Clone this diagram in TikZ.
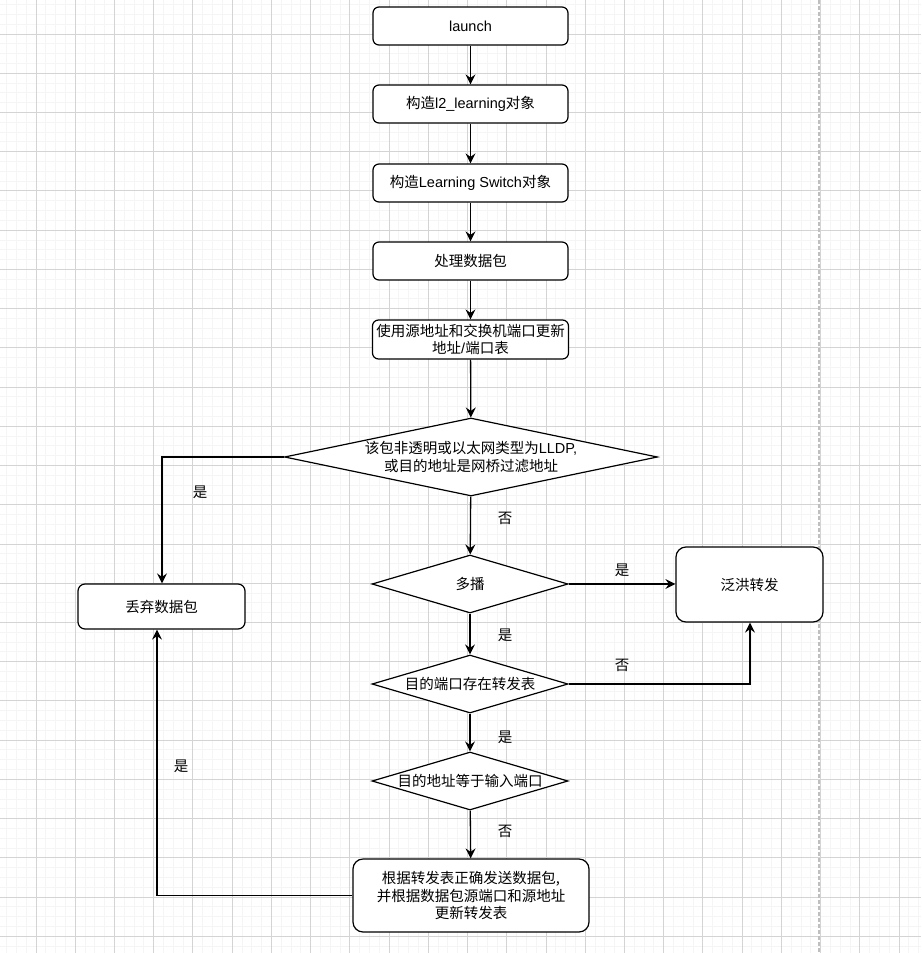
\documentclass[tikz,border=0pt]{standalone}
\usepackage{fontspec}
\setmainfont{Noto Sans CJK SC}
\newfontfamily\lat{Liberation Sans}
\usetikzlibrary{arrows.meta,shapes.geometric}
\tikzset{
  minorgrid/.style={draw=black!4, line width=0.9pt},
  majorgrid/.style={draw=black!17, line width=0.9pt},
  pagebreak/.style={draw=black!25, line width=1.5pt, dash pattern=on 4pt off 2pt},
  box/.style={draw, rounded corners=6pt, line width=1.2pt, minimum width=195pt, minimum height=38pt, inner sep=0pt, align=center, fill=white},
  dia/.style={draw, diamond, line width=1.2pt, inner sep=0pt, fill=white, minimum width=196pt, minimum height=58pt},
  conn/.style={line width=1.3pt, -{Stealth[length=10pt,width=10pt,inset=3.5pt]}},
  lbl/.style={inner sep=0pt}
}
\begin{document}
\begin{tikzpicture}[x=1pt,y=-1pt,font=\fontsize{14.5}{17.5}\selectfont]
\useasboundingbox (0,0) rectangle (921,953);
\fill[white] (0,0) rectangle (921,953);
% grid
\foreach \i in {0,...,93} { \draw[minorgrid] ({6.57+9.8075*\i},0) -- ++(0,953); }
\foreach \i in {0,...,96} { \draw[minorgrid] (0,{4.57+9.8075*\i}) -- ++(921,0); }
\foreach \i in {0,...,22} { \draw[majorgrid] ({36+39.23*\i},0) -- ++(0,953); }
\foreach \i in {0,...,23} { \draw[majorgrid] (0,{34+39.23*\i}) -- ++(921,0); }
\draw[pagebreak] (819,0) -- (819,953);

% nodes
\node[box] (launch) at (470.5,26) {\lat launch};
\node[box] (l2) at (470.5,104) {构造{\lat l2\_learning}对象};
\node[box] (ls) at (470.5,183) {构造{\lat Learning Switch}对象};
\node[box] (proc) at (470.5,261) {处理数据包};
\node[box, minimum width=196pt, minimum height=39pt] (upd) at (470.5,339.5) {使用源地址和交换机端口更新\\地址{\lat /}端口表};
\node[dia, minimum width=373pt, minimum height=78pt, label={[align=center]center:该包非透明或以太网类型为{\lat LLDP,}\\或目的地址是网桥过滤地址}] (d1) at (471,457) {};
\node[dia, label={center:多播}] (d2) at (470,584) {};
\node[dia, label={center:目的端口存在转发表}] (d3) at (470,684) {};
\node[dia, label={center:目的地址等于输入端口}] (d4) at (470,781) {};
\node[box, rounded corners=10pt, minimum width=147pt, minimum height=75pt] (flood) at (749.5,584.5) {泛洪转发};
\node[box, rounded corners=7pt, minimum width=167pt, minimum height=45pt] (drop) at (161.5,606.5) {丢弃数据包};
\node[box, rounded corners=10pt, minimum width=236pt, minimum height=73pt] (fwd) at (471,895.5) {根据转发表正确发送数据包,\\并根据数据包源端口和源地址\\更新转发表};

% connectors
\draw[conn] (launch) -- (l2);
\draw[conn] (l2) -- (ls);
\draw[conn] (ls) -- (proc);
\draw[conn] (proc) -- (upd);
\draw[conn] (upd) -- (d1);
\draw[conn] (d1) -- (d2);
\draw[conn] (d1.west) -| ([xshift=0.5pt]drop.north);
\draw[conn] (d2.east) -- (d2.east -| flood.west);
\draw[conn] (d2) -- (d3);
\draw[conn] (d3.east) -| ([xshift=0.5pt]flood.south);
\draw[conn] (d3) -- (d4);
\draw[conn] (d4) -- (fwd);
\draw[conn] (fwd.west) -| ([xshift=-4.5pt]drop.south);

% labels
\node[lbl] (l1) at (505,518) {否};
\node[lbl] (l2l) at (200,492) {是};
\node[lbl] (l3) at (622,570) {是};
\node[lbl] (l4) at (505,635) {是};
\node[lbl] (l5) at (622,665) {否};
\node[lbl] (l6) at (505,737) {是};
\node[lbl] (l7) at (505,831) {否};
\node[lbl] (l8) at (181,766) {是};
\end{tikzpicture}
\end{document}
